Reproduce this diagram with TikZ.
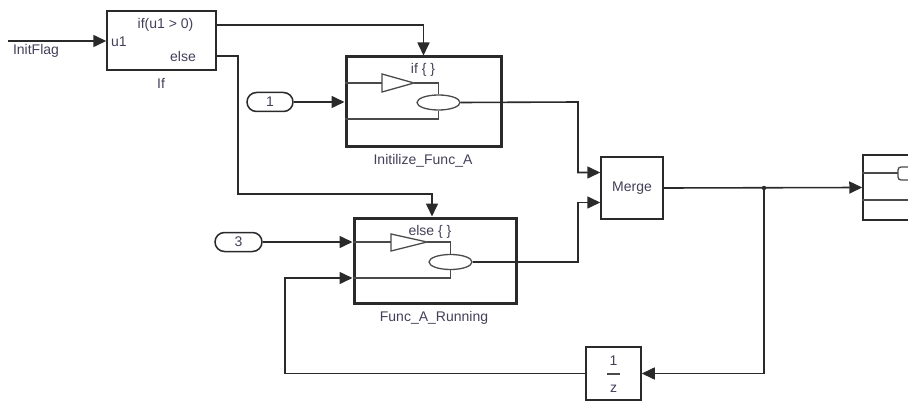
\documentclass[tikz,border=0pt]{standalone}
\usepackage{fontspec}
\setmainfont{Liberation Sans}
\usetikzlibrary{arrows.meta,shapes.geometric,shapes.misc}
\definecolor{ln}{HTML}{2A2A2A}
\definecolor{inl}{HTML}{4A4A4A}
\definecolor{tx}{HTML}{45405A}
\begin{document}
\begin{tikzpicture}[x=1pt,y=-1pt,
  font=\fontsize{14}{16}\selectfont,
  wire/.style={draw=ln, line width=1.6pt},
  arr/.style={wire, -{Triangle[length=13pt,width=12pt]}},
  blk/.style={draw=ln, line width=1.5pt, inner sep=0pt, text=tx},
  sub/.style={draw=ln, line width=3pt, inner sep=0pt},
  cst/.style={draw=ln, line width=1.5pt, rounded rectangle, inner sep=0pt, text=tx},
  inner/.style={draw=inl, line width=1.3pt},
  lbl/.style={text=tx, inner sep=0pt},
  ell/.style={draw=inl, line width=1.3pt, ellipse, inner sep=0pt}
]
\useasboundingbox (0,0) rectangle (908,401);
\clip (0,0) rectangle (908,401);
\fill[white] (0,0) rectangle (908,401);

% blocks
\node[blk, minimum width=109pt, minimum height=59pt] (if) at (161.5,40.5) {};
\node[sub, minimum width=155pt, minimum height=90pt] (init) at (423.5,102) {};
\node[sub, minimum width=162pt, minimum height=85pt] (run) at (435,260.5) {};
\node[blk, minimum width=62pt, minimum height=62pt] (merge) at (632,188) {Merge};
\node[blk, minimum width=55pt, minimum height=53pt] (delay) at (613.5,373.5) {};
\node[blk, minimum width=60pt, minimum height=65pt] (out) at (893,187.5) {};
\node[cst, minimum width=46pt, minimum height=19pt] (c1) at (270,102) {1};
\node[cst, minimum width=47pt, minimum height=19pt] (c3) at (238.5,242) {3};

% texts
\node[lbl] (tflag) at (36,51) {InitFlag};
\node[lbl] (tu1) at (119,42) {u1};
\node[lbl] (tif) at (165.5,25) {if(u1 > 0)};
\node[lbl, anchor=east] (telse) at (196,56) {else};
\node[lbl] (tIf) at (161,83) {If};
\node[lbl] (tinit) at (423,70) {if \{ \}};
\node[lbl] (trun) at (430,232) {else \{ \}};
\node[lbl] (ninit) at (423,161) {Initilize\_Func\_A};
\node[lbl] (nrun) at (434,318) {Func\_A\_Running};
\node[lbl] (d1) at (613.5,361) {1};
\node[lbl] (dz) at (613.5,389) {z};
\draw[inner] (607,374) -- (620,374);

% init internals
\node[ell, minimum width=43pt, minimum height=15pt] (eA) at (438.5,102.5) {};
\draw[inner] (init.west |- 0,83) -- (382,83);
\draw[inner] (382,74) -- (414,83) -- (382,92) -- cycle;
\draw[inner] (414,83) -| (eA.north);
\draw[inner] (init.west |- 0,119) -| (eA.south);

% run internals
\node[ell, minimum width=43pt, minimum height=15pt] (eR) at (450.5,262) {};
\draw[inner] (run.west |- 0,242) -- (391,242);
\draw[inner] (391,234) -- (427,242) -- (391,251) -- cycle;
\draw[inner] (427,242) -| (eR.north);
\draw[inner] (run.west |- 0,278) -| (eR.south);

% out internals
\draw[inner] (out.west |- 0,173) -- (898,173);
\draw[inner, rounded corners=3pt] (915,167) -- (898,167) -- (898,180) -- (915,180);
\draw[inner] (out.west |- 0,200) -- (915,200);

% connectors
\coordinate (flagin) at (8,41);
\draw[arr] (flagin) -- (if.west |- flagin);
\draw[arr] (if.east |- 0,25) -| (init.north);
\coordinate (elsebend) at (238,194);
\coordinate (runx) at (432,0);
\draw[arr] (if.east |- 0,56) -| (elsebend) -| (run.north -| runx);
\draw[arr] (c1.east) -- (init.west |- c1.east);
\draw[arr] (c3.east) -- (run.west |- c3.east);
\coordinate (jA) at (578,102);
\coordinate (jR) at (578,262);
\draw[arr] (eA.east) -- (jA) |- (merge.west |- 0,172.5);
\draw[arr] (eR.east) -- (jR) |- (merge.west |- 0,202.5);
\coordinate (junc) at (764,188);
\draw[arr] (merge.east) -- (out.west);
\fill[ln] (junc) circle (2.2pt);
\draw[arr] (junc) |- (delay.east);
\coordinate (fb) at (285,278);
\draw[arr] (delay.west) -| (fb) -- (run.west |- fb);
\end{tikzpicture}
\end{document}
